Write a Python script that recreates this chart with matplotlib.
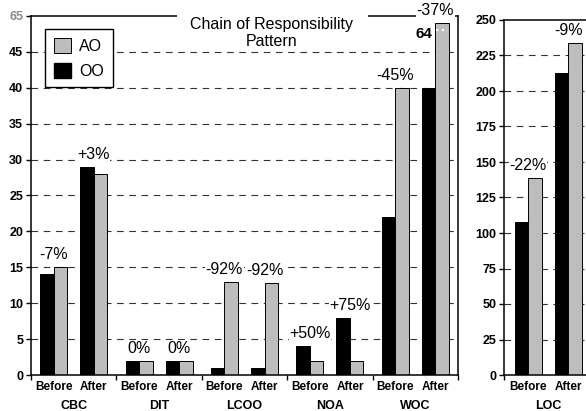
import numpy as np
import matplotlib.pyplot as plt
from matplotlib.patches import Rectangle, Patch
from matplotlib.ticker import NullFormatter

plt.rcParams['font.family'] = ['Liberation Sans', 'DejaVu Sans']

# data
metrics = ['CBC', 'DIT', 'LCOO', 'NOA', 'WOC']
oo_before = [14, 2, 1, 4, 22]
ao_before = [15, 2, 13, 2, 40]
oo_after = [29, 2, 1, 8, 40]
ao_after = [28, 2, 12.8, 2, 64]
pct_before = ['-7%', '0%', '-92%', '+50%', '-45%']
pct_after = ['+3%', '0%', '-92%', '+75%', '-37%']

loc_oo = [108, 213]
loc_ao = [139, 234]
loc_pct = ['-22%', '-9%']

title = 'Chain of Responsibility\nPattern'
gray = '#bdbdbd'
w = 0.158
off = 0.235


def disp(v):
    # broken axis above 45
    return v if v <= 45 else 45 + (v - 45) * 4 / 19


def grid(ax, levels):
    for lv in levels:
        ax.axhline(lv, color='#333333', lw=0.8, dashes=(6, 5), zorder=0.5)


def pct_label(ax, x, y, s):
    ax.annotate(s, (x, y), xytext=(0, 3.5), textcoords='offset points',
                ha='center', va='bottom', fontsize=11.5, zorder=6,
                bbox=dict(facecolor='white', edgecolor='none', pad=0.3))


def style(ax):
    for sp in ax.spines.values():
        sp.set_linewidth(1.1)
    ax.tick_params(axis='y', direction='out', length=3.6, width=1, pad=2,
                   labelsize=9)
    for t in ax.get_yticklabels():
        t.set_fontweight('bold')
    ax.tick_params(axis='x', which='major', direction='out', length=3.6, width=1)
    ax.tick_params(axis='x', which='minor', length=0, pad=4.5, labelsize=8.5)
    ax.xaxis.set_major_formatter(NullFormatter())
    for t in ax.get_xticklabels(minor=True):
        t.set_fontweight('bold')


fig = plt.figure(figsize=(5.86, 4.11), dpi=100)

# left panel
ax = fig.add_axes([31 / 586, 1 - 375 / 411, 427 / 586, 359 / 411])
x = np.arange(len(metrics))
ax.bar(x - off - w / 2, oo_before, w, color='black', edgecolor='black', lw=0.7, zorder=2)
ax.bar(x - off + w / 2, ao_before, w, color=gray, edgecolor='black', lw=0.7, zorder=2)
ax.bar(x + off - w / 2, oo_after, w, color='black', edgecolor='black', lw=0.7, zorder=2)
ax.bar(x + off + w / 2, [disp(v) for v in ao_after], w, color=gray,
       edgecolor='black', lw=0.7, zorder=2)
ax.set_xlim(-0.5, len(metrics) - 0.5)
ax.set_ylim(0, 50)
grid(ax, range(5, 50, 5))
ax.set_yticks(list(range(0, 50, 5)) + [50])
ax.set_yticklabels([str(v) for v in range(0, 50, 5)] + ['65'])
ax.set_xticks(np.arange(-0.5, len(metrics), 1.0))
ax.set_xticks(np.ravel([[i - off, i + off] for i in x]), minor=True)
ax.set_xticklabels(['Before', 'After'] * len(metrics), minor=True)
style(ax)
ax.get_yticklabels()[-1].set_color('#888888')
for i, name in enumerate(metrics):
    ax.annotate(name, (i, 0), xycoords=('data', 'axes fraction'), xytext=(0, -22),
                textcoords='offset points', ha='center', va='center',
                fontsize=9, fontweight='bold')
    pct_label(ax, i - off, max(oo_before[i], ao_before[i]), pct_before[i])
    pct_label(ax, i + off, max(oo_after[i], disp(ao_after[i])), pct_after[i])

# break marker on the 64 bar
top = disp(ao_after[-1])
bx = x[-1] + off + w / 2
ax.plot([bx - w / 2 + 0.01, bx + w / 2 - 0.01], [top - 0.95, top - 0.95], color='white',
        lw=1.6, ls=':', zorder=3)
ax.annotate(str(ao_after[-1]), (bx - w / 2, top), xytext=(-2, -3), textcoords='offset points',
            ha='right', va='top', fontsize=11, fontweight='bold', zorder=6)

ax.legend(handles=[Patch(facecolor=gray, edgecolor='black', lw=0.7, label='AO'),
                   Patch(facecolor='black', edgecolor='black', label='OO')],
          loc='upper left', bbox_to_anchor=(0.033, 0.964), borderaxespad=0,
          fontsize=11.5, fancybox=False, edgecolor='black', framealpha=1,
          handlelength=1.1, handleheight=1.1, handletextpad=0.5,
          labelspacing=0.55, borderpad=0.55).get_frame().set_linewidth(1)

ax.add_patch(Rectangle((0.342, 0.905), 0.447, 0.12, transform=ax.transAxes,
                       facecolor='white', edgecolor='none', zorder=3, clip_on=False))
ax.text(0.564, 0.953, title, transform=ax.transAxes, ha='center', va='center',
        fontsize=11.5, linespacing=1.2, zorder=4)

# right panel
ax2 = fig.add_axes([504 / 586, 1 - 375 / 411, 86.8 / 586, 355 / 411])
px = np.array([-off, off])
ax2.bar(px - w / 2, loc_oo, w, color='black', edgecolor='black', lw=0.7, zorder=2)
ax2.bar(px + w / 2, loc_ao, w, color=gray, edgecolor='black', lw=0.7, zorder=2)
ax2.set_xlim(-0.516, 0.5)
ax2.set_ylim(0, 250)
grid(ax2, range(25, 250, 25))
ax2.set_yticks(range(0, 251, 25))
ax2.set_xticks([-0.516])
ax2.set_xticks(px, minor=True)
ax2.set_xticklabels(['Before', 'After'], minor=True)
style(ax2)
ax2.annotate('LOC', (0, 0), xycoords=('data', 'axes fraction'), xytext=(0, -22),
             textcoords='offset points', ha='center', va='center',
             fontsize=9, fontweight='bold')
for j in range(2):
    pct_label(ax2, px[j], max(loc_oo[j], loc_ao[j]), loc_pct[j])

fig.savefig('out.png', dpi=100)
